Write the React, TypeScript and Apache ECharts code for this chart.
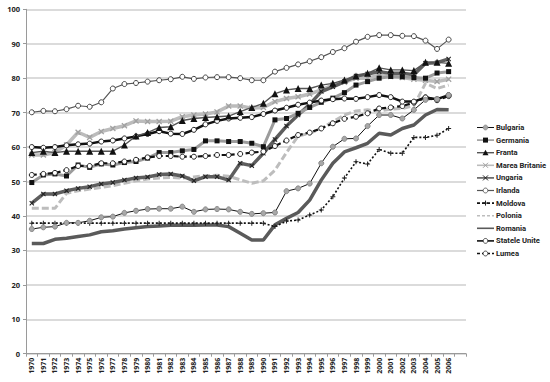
import React, { useEffect, useRef } from "react";
import * as echarts from "echarts";

const years = [
  "1970","1971","1972","1973","1974","1975","1976","1977","1978","1979",
  "1980","1981","1982","1983","1984","1985","1986","1987","1988","1989",
  "1990","1991","1992","1993","1994","1995","1996","1997","1998","1999",
  "2000","2001","2002","2003","2004","2005","2006","",
];

const bulgaria = [36.2,36.7,36.9,38.0,38.0,38.6,39.6,39.8,40.9,41.5,42.0,42.1,42.1,42.7,41.2,41.9,42.0,41.9,41.2,40.6,40.8,41.0,47.2,48.0,49.4,55.3,60.1,62.4,62.5,66.1,69.3,69.3,68.3,70.8,73.7,73.9,75.1];
const germania = [49.7,51.9,52.2,51.6,54.8,54.1,55.1,54.8,55.5,55.8,56.8,58.4,58.4,58.9,59.3,61.8,61.8,61.6,61.6,61.1,60.1,67.9,68.3,69.8,71.5,73.0,74.2,75.8,78.0,79.0,80.0,80.5,80.4,80.2,80.0,81.5,81.9];
const franta = [58.4,58.8,58.4,58.8,58.8,58.8,58.8,58.8,60.6,63.2,64.2,65.7,65.9,67.7,68.3,68.6,68.8,69.0,70.3,71.5,72.7,75.5,76.6,77.0,77.0,78.0,78.5,79.5,80.6,81.4,83.0,82.4,82.4,82.2,84.6,84.6,84.3];
const mareaBritanie = [57.7,57.7,58.4,60.6,64.3,62.8,64.5,65.4,66.2,67.6,67.4,67.4,67.5,68.8,69.3,69.6,70.2,71.9,71.9,71.3,71.5,73.2,74.1,74.6,75.4,76.6,78.0,78.8,80.0,80.0,80.9,80.5,80.2,79.7,79.4,79.0,79.7];
const ungaria = [43.7,46.4,46.4,47.3,48.0,48.5,49.3,49.7,50.4,51.0,51.3,52.0,52.2,51.6,50.2,51.4,51.4,50.4,55.3,54.6,58.2,62.2,66.1,69.3,72.4,76.1,77.5,79.0,80.6,81.2,81.9,81.4,81.4,81.0,84.3,84.5,85.6];
const irlanda = [70.1,70.5,70.4,71.0,72.0,71.7,73.0,77.0,78.3,78.6,79.0,79.4,79.7,80.4,79.8,80.2,80.3,80.3,80.0,79.4,79.4,81.9,83.0,84.0,84.9,86.1,87.6,88.7,90.6,92.0,92.5,92.5,92.3,92.2,90.9,88.5,91.2];
const moldova = [37.9,37.9,37.9,37.9,37.9,37.9,37.9,37.9,37.9,37.9,37.9,37.9,37.9,37.9,37.9,37.9,37.9,37.9,37.9,37.9,37.9,36.9,38.5,38.8,40.3,41.7,45.6,51.0,55.7,55.1,59.3,58.2,58.2,62.8,62.8,63.4,65.4];
const polonia = [42.2,42.2,42.2,46.6,47.3,47.8,48.3,48.8,49.5,50.2,50.7,51.0,51.2,51.0,51.3,51.7,51.8,51.5,50.5,49.5,50.2,53.3,58.4,63.2,64.0,65.4,67.4,69.3,70.5,70.8,70.5,71.0,71.2,72.0,78.5,77.0,78.0];
const romania = [32.0,32.0,33.2,33.5,34.0,34.5,35.4,35.7,36.2,36.6,36.9,37.1,37.3,37.4,37.3,37.4,37.4,36.9,35.0,33.0,33.0,37.4,39.3,41.0,44.6,50.4,55.3,58.6,59.8,61.1,64.0,63.5,65.4,66.4,69.3,70.9,70.8];
const stateleUnite = [60.0,59.8,60.0,60.5,60.8,61.0,61.6,61.9,62.5,63.1,63.8,64.6,63.9,63.8,65.0,66.6,67.6,68.3,68.5,68.7,69.6,70.6,71.4,72.3,72.9,73.5,73.9,74.1,74.0,74.5,75.1,74.5,73.2,73.2,74.4,73.9,75.1];
const lumea = [51.9,52.2,52.5,53.3,54.5,54.5,55.3,55.3,55.8,56.3,57.0,57.4,57.4,57.2,57.2,57.4,57.7,57.7,58.0,58.4,58.7,60.3,61.9,63.5,64.2,65.4,66.9,68.2,68.8,69.8,71.2,71.5,71.9,72.9,74.4,73.6,74.8];

const legendNames = ["Bulgaria","Germania","Franta","Marea Britanie","Ungaria","Irlanda","Moldova","Polonia","Romania","Statele Unite","Lumea"];

const yTicks = { min: 0, max: 100, interval: 10 };

const X_SYMBOL = "path://M0,1.5L1.5,0L5,3.5L8.5,0L10,1.5L6.5,5L10,8.5L8.5,10L5,6.5L1.5,10L0,8.5L3.5,5Z";
const PLUS_SYMBOL = "path://M4,0H6V4H10V6H6V10H4V6H0V4H4Z";

type Sty = {
  data: number[];
  color: string;
  width: number;
  dash?: number[];
  symbol: string; // none | circle | rect | triangle | x | plus
  size: number;
  fill: string;
  stroke?: string;
  z: number;
};

const styles: Record<string, Sty> = {
  "Bulgaria": { data: bulgaria, color: "#111", width: 1, symbol: "circle", size: 5, fill: "#a8a8a8", stroke: "#888", z: 5 },
  "Germania": { data: germania, color: "#9c9c9c", width: 3, symbol: "rect", size: 5, fill: "#111", z: 3 },
  "Franta": { data: franta, color: "#555", width: 1.4, symbol: "triangle", size: 7, fill: "#111", z: 5 },
  "Marea Britanie": { data: mareaBritanie, color: "#bcbcbc", width: 3.5, symbol: "x", size: 6, fill: "#a0a0a0", z: 2 },
  "Ungaria": { data: ungaria, color: "#5e5e5e", width: 3.5, symbol: "x", size: 5, fill: "#222", z: 3 },
  "Irlanda": { data: irlanda, color: "#555", width: 1.2, symbol: "circle", size: 5, fill: "#fff", stroke: "#444", z: 5 },
  "Moldova": { data: moldova, color: "#111", width: 1.6, dash: [2, 2], symbol: "plus", size: 5, fill: "#222", z: 4 },
  "Polonia": { data: polonia, color: "#bdbdbd", width: 3, dash: [7, 3], symbol: "none", size: 0, fill: "#bdbdbd", z: 2 },
  "Romania": { data: romania, color: "#5a5a5a", width: 3.5, symbol: "none", size: 0, fill: "#5a5a5a", z: 2 },
  "Statele Unite": { data: stateleUnite, color: "#111", width: 2.5, symbol: "circle", size: 5, fill: "#fff", stroke: "#222", z: 5 },
  "Lumea": { data: lumea, color: "#111", width: 2.2, dash: [5, 3], symbol: "circle", size: 5, fill: "#fff", stroke: "#222", z: 4 },
};

const seriesOrder = ["Romania","Polonia","Marea Britanie","Ungaria","Germania","Moldova","Lumea","Statele Unite","Franta","Irlanda","Bulgaria"];

function echartsSymbol(s: string) {
  if (s === "x") return X_SYMBOL;
  if (s === "plus") return PLUS_SYMBOL;
  return s;
}

function legendMarker(s: Sty, cx: number, cy: number): any[] {
  const r = 2.4;
  const st = { fill: s.fill, stroke: s.stroke || null, lineWidth: s.stroke ? 0.8 : 0 };
  if (s.symbol === "circle") return [{ type: "circle", shape: { cx, cy, r }, style: st }];
  if (s.symbol === "rect") return [{ type: "rect", shape: { x: cx - 2.5, y: cy - 2.5, width: 5, height: 5 }, style: st }];
  if (s.symbol === "triangle") return [{ type: "polygon", shape: { points: [[cx, cy - 3], [cx + 3, cy + 2.5], [cx - 3, cy + 2.5]] }, style: st }];
  if (s.symbol === "x") return [
    { type: "line", shape: { x1: cx - 2.5, y1: cy - 2.5, x2: cx + 2.5, y2: cy + 2.5 }, style: { stroke: s.fill, lineWidth: 1 } },
    { type: "line", shape: { x1: cx - 2.5, y1: cy + 2.5, x2: cx + 2.5, y2: cy - 2.5 }, style: { stroke: s.fill, lineWidth: 1 } },
  ];
  if (s.symbol === "plus") return [
    { type: "line", shape: { x1: cx - 2.5, y1: cy, x2: cx + 2.5, y2: cy }, style: { stroke: s.fill, lineWidth: 1 } },
    { type: "line", shape: { x1: cx, y1: cy - 2.5, x2: cx, y2: cy + 2.5 }, style: { stroke: s.fill, lineWidth: 1 } },
  ];
  return [];
}

export default function App() {
  const ref = useRef<HTMLDivElement>(null);
  useEffect(() => {
    if (!ref.current) return;
    const chart = echarts.init(ref.current, null, { renderer: "svg" });
    const font = "'Open Sans', 'DejaVu Sans', sans-serif";
    const legendFont = "Roboto, 'Open Sans', sans-serif";

    const series = seriesOrder.map((name) => {
      const s = styles[name];
      return {
        name,
        type: "line",
        data: s.data,
        symbol: s.symbol === "none" ? "none" : echartsSymbol(s.symbol),
        symbolSize: s.size,
        showSymbol: s.symbol !== "none",
        lineStyle: { color: s.color, width: s.width, type: s.dash || "solid" },
        itemStyle: s.stroke ? { color: s.fill, borderColor: s.stroke, borderWidth: 1 } : { color: s.fill },
        z: s.z,
      };
    });

    const legendItems: any[] = [];
    legendNames.forEach((name, i) => {
      const s = styles[name];
      const cy = 127.5 + i * 12.6;
      const x0 = 477;
      const x1 = 494;
      legendItems.push({
        type: "line",
        shape: { x1: x0, y1: cy, x2: x1, y2: cy },
        style: { stroke: s.color, lineWidth: Math.min(s.width, 1.6), lineDash: s.dash ? [3, 2] : null },
      });
      legendMarker(s, (x0 + x1) / 2, cy).forEach((m) => legendItems.push(m));
      legendItems.push({
        type: "text",
        x: 496,
        y: cy,
        style: { text: name, fill: "#222", font: `bold 7.6px ${legendFont}`, textVerticalAlign: "middle", verticalAlign: "middle" },
      });
    });

    const option: any = {
      animation: false,
      backgroundColor: "#ffffff",
      grid: { left: 26, right: 84, top: 9.3, bottom: 28.3, containLabel: false },
      xAxis: {
        type: "category",
        data: years,
        boundaryGap: true,
        axisLine: { lineStyle: { color: "#9a9a9a", width: 1 } },
        axisTick: { show: true, length: 3, lineStyle: { color: "#9a9a9a" }, interval: 0 },
        axisLabel: { interval: 0, rotate: 90, fontFamily: font, fontSize: 7, fontWeight: "bold", color: "#222", margin: 4 },
        splitLine: { show: false },
      },
      yAxis: {
        type: "value",
        min: yTicks.min,
        max: yTicks.max,
        interval: yTicks.interval,
        axisLine: { show: true, lineStyle: { color: "#9a9a9a", width: 1 } },
        axisTick: { show: true, length: 3, lineStyle: { color: "#9a9a9a" } },
        axisLabel: { fontFamily: font, fontSize: 7.5, fontWeight: "bold", color: "#222", margin: 6 },
        splitLine: { lineStyle: { color: "#cfcfcf", width: 1.5 } },
      },
      graphic: [{ type: "group", elements: legendItems }],
      series,
    };
    chart.setOption(option);
    return () => chart.dispose();
  }, []);
  return (
    <div
      ref={ref}
      style={{ position: "fixed", left: 0, top: 0, width: 550, height: 382, background: "#fff" }}
    />
  );
}
